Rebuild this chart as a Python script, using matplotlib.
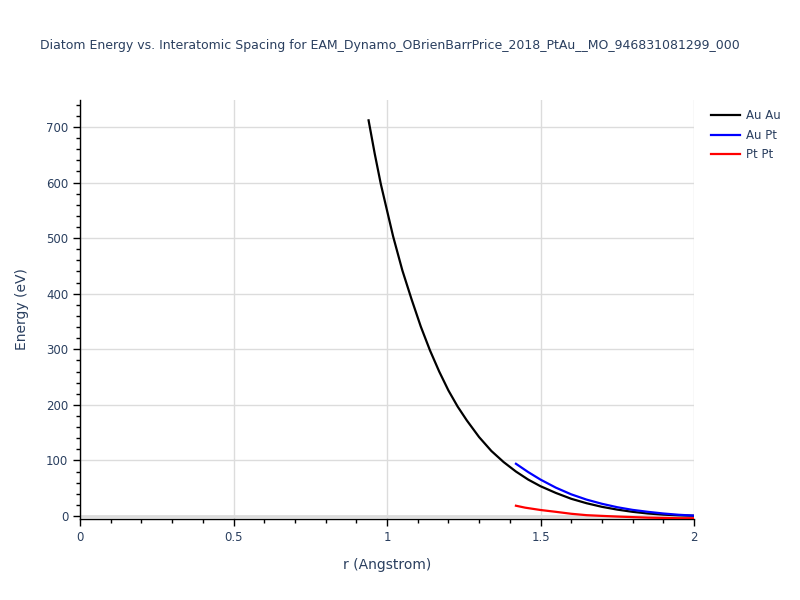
import matplotlib
matplotlib.use("Agg")
import matplotlib.pyplot as plt
from matplotlib.ticker import MultipleLocator, FuncFormatter

plt.rcParams["font.family"] = ["DejaVu Sans"]

TITLE = "Diatom Energy vs. Interatomic Spacing for EAM_Dynamo_OBrienBarrPrice_2018_PtAu__MO_946831081299_000"
TEXT_COLOR = "#2a3f5f"

# Au Au
r_auau = [0.94, 0.96, 0.98, 1.0, 1.02, 1.05, 1.08, 1.11, 1.14, 1.17, 1.2, 1.23,
          1.26, 1.3, 1.34, 1.38, 1.42, 1.46, 1.5, 1.55, 1.6, 1.65, 1.7, 1.75,
          1.8, 1.85, 1.9, 1.95, 2.0]
e_auau = [712, 652, 597, 550, 503, 442, 390, 341, 298, 260, 226, 197,
          172, 142, 117, 97, 80, 65.5, 53.6, 41.5, 31, 23, 16.5, 11.5,
          7.5, 4.5, 2.5, 1.2, 0.5]

# Au Pt
r_aupt = [1.42, 1.46, 1.5, 1.55, 1.6, 1.65, 1.7, 1.75, 1.8, 1.85, 1.9, 1.95, 2.0]
e_aupt = [94, 79, 65.5, 51, 39, 29.5, 22, 15.8, 11, 7.5, 4.5, 2.2, 0.7]

# Pt Pt
r_ptpt = [1.42, 1.45, 1.5, 1.55, 1.6, 1.65, 1.7, 1.75, 1.8, 1.85, 1.9, 1.95, 2.0]
e_ptpt = [18.5, 15, 10.8, 7.5, 4, 1.5, 0.2, -1, -2, -3, -3.5, -4, -4]

series = [
    ("Au Au", r_auau, e_auau, "black"),
    ("Au Pt", r_aupt, e_aupt, "blue"),
    ("Pt Pt", r_ptpt, e_ptpt, "red"),
]

fig = plt.figure(figsize=(8, 6), dpi=100)
ax = fig.add_axes([80 / 800, 1 - 519 / 600, 614 / 800, 419 / 600])

ax.axhline(0, color="#dcdcdc", lw=2, zorder=1)
for name, r, e, c in series:
    ax.plot(r, e, color=c, lw=1.6, label=name, zorder=3,
            solid_joinstyle="round")

ax.set_xlim(0, 2)
ax.set_ylim(-5.4, 748.6)

ax.xaxis.set_major_locator(MultipleLocator(0.5))
ax.xaxis.set_minor_locator(MultipleLocator(0.1))
ax.yaxis.set_major_locator(MultipleLocator(100))
ax.yaxis.set_minor_locator(MultipleLocator(20))
ax.xaxis.set_major_formatter(FuncFormatter(lambda v, p: f"{v:g}"))

ax.grid(True, which="major", color="#dcdcdc", lw=1, zorder=0)
ax.set_axisbelow(True)

for side in ("top", "right"):
    ax.spines[side].set_visible(False)
for side in ("left", "bottom"):
    ax.spines[side].set_color("black")
    ax.spines[side].set_linewidth(1)

ax.tick_params(which="major", direction="out", length=5, width=1,
               colors="black", labelcolor=TEXT_COLOR, labelsize=8.5)
ax.tick_params(which="minor", direction="out", length=3, width=1, colors="black")

ax.set_xlabel("r (Angstrom)", fontsize=10, color=TEXT_COLOR, labelpad=10)
ax.set_ylabel("Energy (eV)", fontsize=10, color=TEXT_COLOR, labelpad=12)

fig.text(390 / 800, 1 - 45 / 600, TITLE, ha="center", va="center",
         fontsize=9.0, color=TEXT_COLOR)

leg = ax.legend(loc="upper left", bbox_to_anchor=(1.013, 1.0), frameon=False,
                fontsize=8.5, handlelength=2.4, labelspacing=0.55,
                borderaxespad=0.4, handletextpad=0.5)
for t in leg.get_texts():
    t.set_color(TEXT_COLOR)

fig.savefig("out.png", dpi=100, facecolor="white")
